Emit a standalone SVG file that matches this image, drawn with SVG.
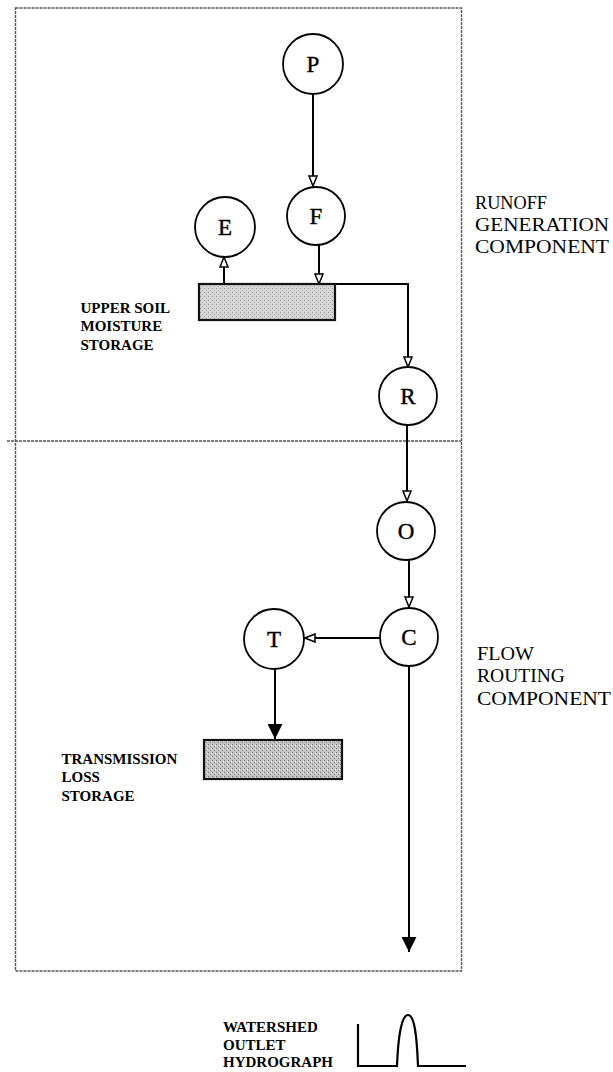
<svg xmlns="http://www.w3.org/2000/svg" width="613" height="1072" viewBox="0 0 613 1072">
<style>
.frame{fill:none;stroke:#555;stroke-width:1.4;stroke-dasharray:3 1}
.node{fill:#fff;stroke:#000;stroke-width:1.8}
.lbl{font-family:"Liberation Serif","Times New Roman",serif;font-size:23px;fill:#000;stroke:#000;stroke-width:0.4;text-anchor:middle}
.bold{font-family:"Liberation Serif","Times New Roman",serif;font-size:15px;font-weight:bold;fill:#000}
.side{font-family:"Liberation Serif","Times New Roman",serif;font-size:19px;fill:#000}
.conn{fill:none;stroke:#000;stroke-width:2}
.store{stroke:#111;stroke-width:2.2}
</style>
<defs>
<pattern id="stip1" width="4" height="4" patternUnits="userSpaceOnUse">
<rect width="4" height="4" fill="#d6d6d6"/>
<rect x="0" y="0" width="1" height="1" fill="#999"/>
<rect x="2" y="2" width="1" height="1" fill="#aaa"/>
</pattern>
<pattern id="stip2" width="4" height="4" patternUnits="userSpaceOnUse">
<rect width="4" height="4" fill="#c4c4c4"/>
<rect x="0" y="0" width="1" height="1" fill="#777"/>
<rect x="2" y="2" width="1" height="1" fill="#888"/>
<rect x="3" y="1" width="1" height="1" fill="#eee"/>
</pattern>
<marker id="hollow" viewBox="0 0 12 10" refX="11" refY="5" markerWidth="12" markerHeight="10" markerUnits="userSpaceOnUse" orient="auto">
<path d="M1,1 L11,5 L1,9 z" fill="#fff" stroke="#000" stroke-width="1.5"/>
</marker>
<marker id="solid" viewBox="0 0 15 15" refX="15" refY="7.5" markerWidth="15" markerHeight="15" markerUnits="userSpaceOnUse" orient="auto">
<path d="M0,0 L15,7.5 L0,15 z" fill="#000"/>
</marker>
</defs>

<g id="frame">
<rect class="frame" x="15.5" y="8" width="446" height="963"/>
<path class="frame" d="M7,441 H461"/>
</g>

<g id="connectors">
<path class="conn" d="M313,94 V186" marker-end="url(#hollow)"/>
<path class="conn" d="M319,245 V284" marker-end="url(#hollow)"/>
<path class="conn" d="M224,284 V257" marker-end="url(#hollow)"/>
<path class="conn" d="M334,284 H408 V367" marker-end="url(#hollow)"/>
<path class="conn" d="M407,425 V501" marker-end="url(#hollow)"/>
<path class="conn" d="M409,560 V607" marker-end="url(#hollow)"/>
<path class="conn" d="M380,638 H305" marker-end="url(#hollow)"/>
<path class="conn" d="M275,669 V739" marker-end="url(#solid)"/>
<path class="conn" d="M409,666 V952" marker-end="url(#solid)"/>
</g>

<g id="node-P"><circle class="node" cx="313" cy="64" r="30"/><text class="lbl" x="313" y="72">P</text></g>
<g id="node-F"><circle class="node" cx="316" cy="216" r="29"/><text class="lbl" x="316" y="224">F</text></g>
<g id="node-E"><circle class="node" cx="225" cy="227" r="30"/><text class="lbl" x="225" y="235">E</text></g>
<g id="node-R"><circle class="node" cx="408" cy="396" r="29"/><text class="lbl" x="408" y="404">R</text></g>
<g id="node-O"><circle class="node" cx="406" cy="531" r="29"/><text class="lbl" x="406" y="539">O</text></g>
<g id="node-C"><circle class="node" cx="409" cy="637" r="29"/><text class="lbl" x="409" y="645">C</text></g>
<g id="node-T"><circle class="node" cx="274" cy="639" r="30"/><text class="lbl" x="274" y="647">T</text></g>

<g id="node-upper-soil-storage">
<rect class="store" x="199" y="284" width="136" height="36" fill="url(#stip1)"/>
<text class="bold" x="80.5" y="312.5">UPPER SOIL</text>
<text class="bold" x="80.5" y="331">MOISTURE</text>
<text class="bold" x="80.5" y="350">STORAGE</text>
</g>

<g id="node-transmission-loss-storage">
<rect class="store" x="204" y="740" width="138" height="39" fill="url(#stip2)"/>
<text class="bold" x="61.5" y="763.5">TRANSMISSION</text>
<text class="bold" x="61.5" y="782">LOSS</text>
<text class="bold" x="61.5" y="801">STORAGE</text>
</g>

<g id="label-runoff">
<text class="side" x="475" y="209" textLength="72" lengthAdjust="spacingAndGlyphs">RUNOFF</text>
<text class="side" x="475" y="231" textLength="134" lengthAdjust="spacingAndGlyphs">GENERATION</text>
<text class="side" x="475" y="253" textLength="134" lengthAdjust="spacingAndGlyphs">COMPONENT</text>
</g>

<g id="label-flow">
<text class="side" x="477" y="659.5" textLength="57" lengthAdjust="spacingAndGlyphs">FLOW</text>
<text class="side" x="477" y="682" textLength="88" lengthAdjust="spacingAndGlyphs">ROUTING</text>
<text class="side" x="477" y="704.5" textLength="134" lengthAdjust="spacingAndGlyphs">COMPONENT</text>
</g>

<g id="node-hydrograph">
<text class="bold" x="223" y="1031.5">WATERSHED</text>
<text class="bold" x="223" y="1050">OUTLET</text>
<text class="bold" x="223" y="1067">HYDROGRAPH</text>
<path d="M358,1024 V1066 H397 C398,1040 401,1015 408,1015 C415,1015 417,1040 418,1066 H466" fill="none" stroke="#000" stroke-width="2.2"/>
</g>
</svg>
